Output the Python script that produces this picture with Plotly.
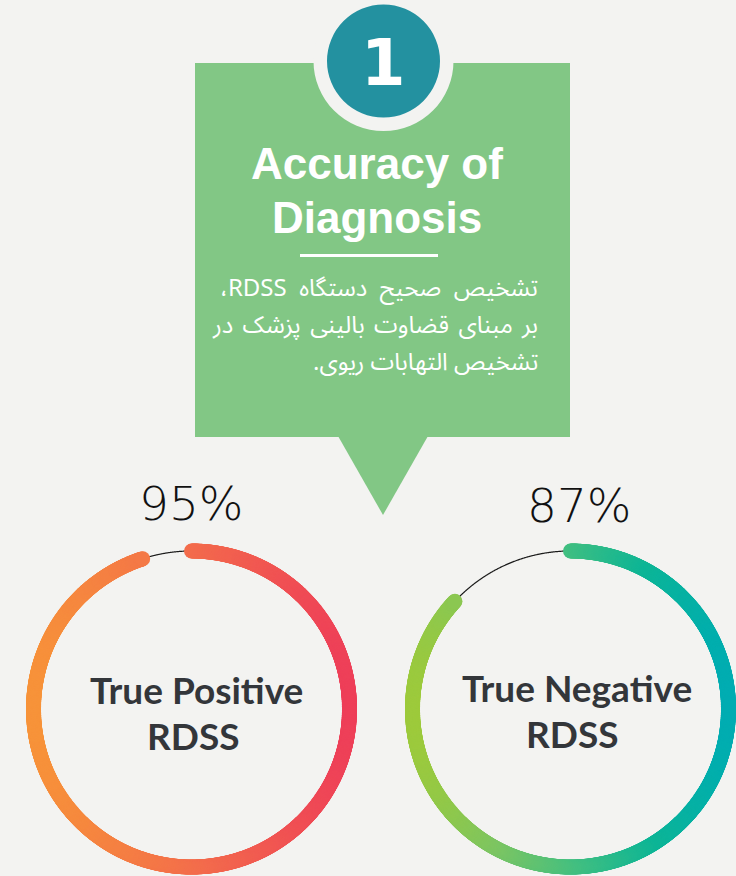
import numpy as np
import plotly.graph_objects as go

# ---------------- data ----------------
metric_labels = ["True Positive", "True Negative"]
metric_sublabels = ["RDSS", "RDSS"]
metric_values = [95, 87]          # percent
step_number = "1"
title_lines = ["Accuracy of", "Diagnosis"]
desc_lines = ["تشخیص\u00a0\u00a0صحیح\u00a0\u00a0دستگاه\u00a0\u00a0RDSS،",
              "بر\u2009 مبنای\u2009 قضاوت\u2009 بالینی\u2009 پزشک\u2009 در",
              "تشخیص التهابات ریوی."]

# ---------------- style ----------------
W, H = 736, 876
BG = "#f3f3f1"
GREEN = "#82c785"
TEAL = "#2391a0"
DARK = "#33363a"
ring_centers = [(191.5, 709.0), (570.5, 709.0)]
ring_radius = 158.0
ring_width = 15
ring_scales = [
    [[0, "#f7933a"], [0.5, "#f36d4c"], [1, "#ee3f59"]],
    [[0, "#9dca3c"], [0.25, "#7cc563"], [0.5, "#42bf81"], [0.75, "#0db596"], [1, "#00adb2"]],
]

fig = go.Figure()

# rings in polar subplots
for i, (val, (cx, cy), cs) in enumerate(zip(metric_values, ring_centers, ring_scales)):
    h = min(166.0, W - cx, cx, H - cy)
    pname = "polar" if i == 0 else f"polar{i+1}"
    sub = pname
    rmax = h / ring_radius
    fig.update_layout(**{pname: dict(
        domain=dict(x=[(cx - h) / W, (cx + h) / W],
                    y=[(H - cy - h) / H, (H - cy + h) / H]),
        bgcolor="rgba(0,0,0,0)",
        radialaxis=dict(visible=False, range=[0, rmax]),
        angularaxis=dict(visible=False, rotation=90, direction="clockwise"),
    )})
    end_deg = val * 3.6
    th_rest = np.linspace(end_deg, 360, 200)
    fig.add_trace(go.Scatterpolar(r=np.ones_like(th_rest), theta=th_rest, mode="lines",
                                  line=dict(color="#1a1a1a", width=1.2),
                                  subplot=sub, hoverinfo="skip", showlegend=False,
                                  cliponaxis=False))
    th = np.arange(0, end_deg + 1e-9, 0.25)
    t = (np.sin(np.radians(th)) + 1) / 2
    fig.add_trace(go.Scatterpolar(r=np.ones_like(th), theta=th, mode="markers",
                                  marker=dict(size=ring_width, color=t, colorscale=cs,
                                              cmin=0, cmax=1, line=dict(width=0)),
                                  subplot=sub, hoverinfo="skip", showlegend=False,
                                  cliponaxis=False))

fig.update_layout(
    xaxis=dict(range=[0, W], visible=False, domain=[0, 1], fixedrange=True),
    yaxis=dict(range=[H, 0], visible=False, domain=[0, 1], fixedrange=True),
)

shapes = [
    dict(type="rect", x0=195, x1=570, y0=63, y1=437, fillcolor=GREEN, line=dict(width=0), layer="below"),
    dict(type="path", path="M 338 436 L 428 436 L 383 515 Z", fillcolor=GREEN, line=dict(width=0), layer="below"),
    dict(type="circle", x0=383.5 - 70, x1=383.5 + 70, y0=61 - 70, y1=61 + 70, fillcolor=BG, line=dict(width=0), layer="below"),
    dict(type="circle", x0=383.5 - 56.5, x1=383.5 + 56.5, y0=61 - 56.5, y1=61 + 56.5, fillcolor=TEAL, line=dict(width=0), layer="below"),
    dict(type="line", x0=300, x1=438, y0=255.5, y1=255.5, line=dict(color="white", width=3), layer="below"),
]
for s in shapes:
    s.update(xref="x", yref="y")
fig.update_layout(shapes=shapes)

ann = []
def A(text, x, y, size, family, color, weight="normal", xanchor="center"):
    ann.append(dict(text=text, x=x, y=y, xref="x", yref="y", showarrow=False,
                    xanchor=xanchor, yanchor="middle", borderpad=0,
                    font=dict(size=size, family=family, color=color, weight=weight)))

A(step_number, 383.5, 63, 64, "DejaVu Sans", "white", "bold")
A(title_lines[0], 377, 163, 44, "Liberation Sans, Arial", "white", "bold")
A(title_lines[1], 377, 217, 44, "Liberation Sans, Arial", "white", "bold")
for k, line in enumerate(desc_lines):
    A("\u202b" + line + "\u202c", 539, 288 + k * 37, 24,
      "Noto Sans Arabic, DejaVu Sans, sans-serif", "white", "normal", xanchor="right")

pct_pos = [(191, 503), (578.5, 505)]
for val, (px, py) in zip(metric_values, pct_pos):
    A(f"{val}%", px, py, 47, "DejaVu Sans", "#111111", 200)

lab_pos = [(196, 689, 193.5, 735), (576.5, 687, 572.5, 733)]
for lab, sub, (x1, y1, x2, y2) in zip(metric_labels, metric_sublabels, lab_pos):
    A(lab, x1, y1, 37, "Lato", DARK, "bold")
    A(sub, x2, y2, 37, "Lato", DARK, "bold")
fig.update_layout(annotations=ann)

fig.update_layout(width=W, height=H, margin=dict(l=0, r=0, t=0, b=0),
                  paper_bgcolor=BG, plot_bgcolor="rgba(0,0,0,0)", showlegend=False)
fig.write_html("out.html", config=dict(displayModeBar=False),
               post_script="document.body.style.margin='0';document.body.style.background='" + BG + "';")
